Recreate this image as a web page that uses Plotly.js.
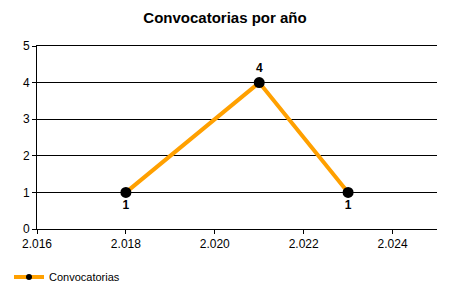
<!DOCTYPE html>
<html>
<head>
<meta charset="utf-8">
<script src="https://cdn.plot.ly/plotly-3.0.1.min.js"></script>
<style>html,body{margin:0;padding:0;background:#fff;}#chart{width:450px;height:300px;}</style>
</head>
<body>
<div id="chart"></div>
<script>
const years = [2018, 2021, 2023];
const counts = [1, 4, 1];
const labelPositions = ['bottom center', 'top center', 'bottom center'];
const xTickVals = [2016, 2018, 2020, 2022, 2024];
const xTickText = ['2.016', '2.018', '2.020', '2.022', '2.024'];
const seriesName = 'Convocatorias';
const chartTitle = 'Convocatorias por año';

const font = 'Liberation Sans, Arial, sans-serif';

const trace = {
  x: years,
  y: counts,
  type: 'scatter',
  mode: 'lines+markers+text',
  name: seriesName,
  showlegend: false,
  text: counts.map(String),
  textposition: labelPositions,
  textfont: {family: font, size: 12, color: '#000', weight: 'bold'},
  line: {color: '#FFA000', width: 4},
  marker: {color: '#000', size: 11},
  cliponaxis: false
};

// legend entry only (smaller marker, as in the reference legend)
const legendTrace = {
  x: [null],
  y: [null],
  type: 'scatter',
  mode: 'lines+markers',
  name: seriesName,
  showlegend: true,
  line: {color: '#FFA000', width: 4},
  marker: {color: '#000', size: 6}
};

const layout = {
  width: 450,
  height: 300,
  margin: {l: 37, r: 13, t: 46, b: 71},
  paper_bgcolor: '#fff',
  plot_bgcolor: '#fff',
  font: {family: font, size: 12, color: '#000'},
  title: {
    text: '<b>' + chartTitle + '</b>',
    font: {family: font, size: 15, color: '#000'},
    x: 0.5, xanchor: 'center',
    y: 1 - 18/300, yanchor: 'middle'
  },
  xaxis: {
    range: [2016, 2025],
    tickvals: xTickVals,
    ticktext: xTickText,
    showgrid: false,
    zeroline: false,
    showline: true,
    mirror: true,
    linecolor: '#000',
    linewidth: 1,
    ticks: 'outside',
    ticklen: 4,
    tickcolor: '#000',
    tickfont: {family: font, size: 12, color: '#000'}
  },
  yaxis: {
    range: [0, 5],
    tickvals: [0, 1, 2, 3, 4, 5],
    showgrid: true,
    gridcolor: '#000',
    gridwidth: 1,
    zeroline: false,
    showline: true,
    linecolor: '#000',
    linewidth: 1,
    ticks: 'outside',
    ticklen: 4,
    tickcolor: '#000',
    tickfont: {family: font, size: 12, color: '#000'}
  },
  showlegend: true,
  legend: {
    orientation: 'h',
    xref: 'container', yref: 'container',
    x: 9/450, xanchor: 'left',
    y: 1 - 277/300, yanchor: 'middle',
    font: {family: font, size: 11, color: '#000'},
    itemwidth: 30
  }
};

Plotly.newPlot('chart', [trace, legendTrace], layout, {staticPlot: true, displayModeBar: false});
</script>
</body>
</html>
